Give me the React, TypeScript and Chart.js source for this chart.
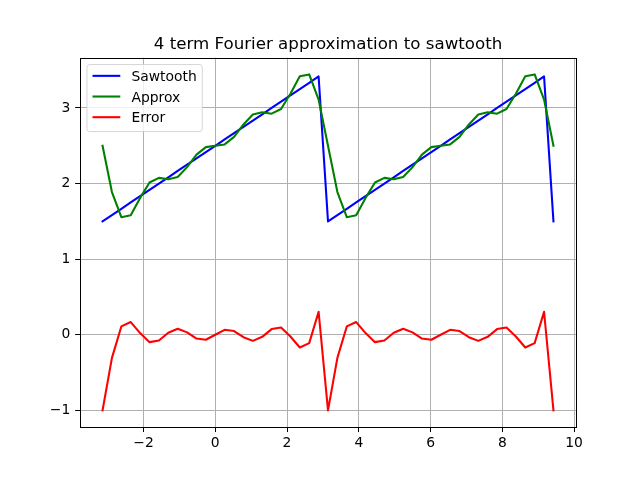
import React, { useEffect, useRef } from 'react';
import { Chart, registerables } from 'chart.js';

Chart.register(...registerables);

const titleText = '4 term Fourier approximation to sawtooth';
const seriesLabels = ['Sawtooth', 'Approx', 'Error'];
const seriesColors = ['#0000ff', '#008000', '#ff0000'];

const xValues = [
  -3.1416, -2.8798, -2.618, -2.3562, -2.0944, -1.8326, -1.5708, -1.309, -1.0472, -0.7854, -0.5236, -0.2618,
  0, 0.2618, 0.5236, 0.7854, 1.0472, 1.309, 1.5708, 1.8326, 2.0944, 2.3562, 2.618, 2.8798,
  3.1416, 3.4034, 3.6652, 3.927, 4.1888, 4.4506, 4.7124, 4.9742, 5.236, 5.4978, 5.7596, 6.0214,
  6.2832, 6.545, 6.8068, 7.0686, 7.3304, 7.5922, 7.854, 8.1158, 8.3776, 8.6394, 8.9012, 9.163,
  9.4248,
];

const sawtooth = [
  1.5, 1.5833, 1.6667, 1.75, 1.8333, 1.9167, 2.0, 2.0833, 2.1667, 2.25, 2.3333, 2.4167,
  2.5, 2.5833, 2.6667, 2.75, 2.8333, 2.9167, 3.0, 3.0833, 3.1667, 3.25, 3.3333, 3.4167,
  1.5, 1.5833, 1.6667, 1.75, 1.8333, 1.9167, 2.0, 2.0833, 2.1667, 2.25, 2.3333, 2.4167,
  2.5, 2.5833, 2.6667, 2.75, 2.8333, 2.9167, 3.0, 3.0833, 3.1667, 3.25, 3.3333, 3.4167,
  1.5,
];

const approx = [
  2.5, 1.8882, 1.556, 1.5815, 1.8108, 2.0138, 2.0756, 2.0564, 2.0865, 2.2181, 2.383, 2.4822,
  2.5, 2.5178, 2.617, 2.7819, 2.9135, 2.9436, 2.9244, 2.9862, 3.1892, 3.4185, 3.444, 3.1118,
  2.5, 1.8882, 1.556, 1.5815, 1.8108, 2.0138, 2.0756, 2.0564, 2.0865, 2.2181, 2.383, 2.4822,
  2.5, 2.5178, 2.617, 2.7819, 2.9135, 2.9436, 2.9244, 2.9862, 3.1892, 3.4185, 3.444, 3.1118,
  2.5,
];

const errorValues = [
  -1.0, -0.3049, 0.1107, 0.1685, 0.0225, -0.0971, -0.0756, 0.0269, 0.0802, 0.0319, -0.0496, -0.0655,
  0, 0.0655, 0.0496, -0.0319, -0.0802, -0.0269, 0.0756, 0.0971, -0.0225, -0.1685, -0.1107, 0.3049,
  -1.0, -0.3049, 0.1107, 0.1685, 0.0225, -0.0971, -0.0756, 0.0269, 0.0802, 0.0319, -0.0496, -0.0655,
  0, 0.0655, 0.0496, -0.0319, -0.0802, -0.0269, 0.0756, 0.0971, -0.0225, -0.1685, -0.1107, 0.3049,
  -1.0,
];

const xTicks = [-2, 0, 2, 4, 6, 8, 10];
const yTicks = [-1, 0, 1, 2, 3];

const FONT = "'DejaVu Sans', sans-serif";
const fmt = (v: number) => (v < 0 ? '\u2212' + Math.abs(v) : String(v));

const framePlugin = {
  id: 'mplFrame',
  afterDatasetsDraw(chart: any) {
    const { ctx, chartArea } = chart;
    ctx.save();
    // spines
    const l = Math.round(chartArea.left) + 0.5;
    const r = Math.round(chartArea.right) + 0.5;
    const t = Math.round(chartArea.top) + 0.5;
    const b = Math.round(chartArea.bottom) + 0.5;
    ctx.strokeStyle = '#000';
    ctx.lineWidth = 1;
    ctx.strokeRect(l, t, r - l, b - t);

    // legend
    const fs = 13.89;
    ctx.font = `${fs}px ${FONT}`;
    const pad = 0.5 * fs;
    const borderpad = 0.4 * fs;
    const handleLen = 2 * fs;
    const handleTextPad = 0.8 * fs;
    const rowH = 20.67;
    const labels = chart.data.datasets.map((d: any) => d.label as string);
    const maxW = Math.max(...labels.map((s: string) => ctx.measureText(s).width));
    const left = chartArea.left + pad;
    const top = chartArea.top + pad;
    const w = borderpad * 2 + handleLen + handleTextPad + maxW;
    const h = 67;
    const rad = 0.2 * fs;
    ctx.beginPath();
    ctx.moveTo(left + rad, top);
    ctx.lineTo(left + w - rad, top);
    ctx.arcTo(left + w, top, left + w, top + rad, rad);
    ctx.lineTo(left + w, top + h - rad);
    ctx.arcTo(left + w, top + h, left + w - rad, top + h, rad);
    ctx.lineTo(left + rad, top + h);
    ctx.arcTo(left, top + h, left, top + h - rad, rad);
    ctx.lineTo(left, top + rad);
    ctx.arcTo(left, top, left + rad, top, rad);
    ctx.closePath();
    ctx.fillStyle = 'rgba(255,255,255,0.8)';
    ctx.fill();
    ctx.strokeStyle = 'rgba(204,204,204,0.8)';
    ctx.lineWidth = 1;
    ctx.stroke();

    chart.data.datasets.forEach((d: any, i: number) => {
      const y = top + 11.3 + i * rowH;
      const x0 = left + borderpad;
      ctx.beginPath();
      ctx.moveTo(x0, y);
      ctx.lineTo(x0 + handleLen, y);
      ctx.strokeStyle = d.borderColor;
      ctx.lineWidth = 2.08;
      ctx.lineCap = 'butt';
      ctx.stroke();
      ctx.fillStyle = '#000';
      ctx.textAlign = 'left';
      ctx.textBaseline = 'alphabetic';
      ctx.fillText(d.label, x0 + handleLen + handleTextPad, y + 5.07);
    });
    ctx.restore();
  },
};

export default function App() {
  const ref = useRef<HTMLCanvasElement | null>(null);

  useEffect(() => {
    if (!ref.current) return;
    Chart.defaults.font.family = FONT;
    Chart.defaults.color = '#000';
    const series = [sawtooth, approx, errorValues];
    const chart = new Chart(ref.current, {
      type: 'line',
      data: {
        datasets: series.map((vals, i) => ({
          label: seriesLabels[i],
          data: xValues.map((x, k) => ({ x, y: vals[k] })),
          borderColor: seriesColors[i],
          backgroundColor: seriesColors[i],
          borderWidth: 2.08,
          pointRadius: 0,
          pointHoverRadius: 0,
          tension: 0,
          fill: false,
          borderJoinStyle: 'round' as const,
          borderCapStyle: 'square' as const,
          order: 3 - i,
        })),
      },
      options: {
        animation: false,
        responsive: false,
        maintainAspectRatio: false,
        layout: { padding: { left: 0, right: 64, top: 0, bottom: 0 } },
        plugins: {
          legend: { display: false },
          tooltip: { enabled: false },
          title: {
            display: true,
            text: titleText,
            fullSize: false,
            color: '#000',
            font: { family: FONT, size: 16.67, weight: 'normal', lineHeight: 1.2 },
            padding: { top: 34.35, bottom: 3.25 },
          },
        },
        scales: {
          x: {
            type: 'linear',
            min: -3.7699,
            max: 10.0531,
            afterBuildTicks: (scale: any) => {
              scale.ticks = xTicks.map((v) => ({ value: v }));
            },
            afterFit: (scale: any) => {
              scale.height = 52.8;
            },
            ticks: {
              font: { family: FONT, size: 13.89 },
              color: '#000',
              padding: 3,
              maxRotation: 0,
              autoSkip: false,
              callback: (v: any) => fmt(Number(v)),
            },
            grid: {
              color: '#b0b0b0',
              lineWidth: 1,
              tickColor: '#000',
              tickLength: 4.86,
              tickWidth: 1,
            },
            border: { display: false },
          },
          y: {
            type: 'linear',
            min: -1.2222,
            max: 3.6662,
            afterBuildTicks: (scale: any) => {
              scale.ticks = yTicks.map((v) => ({ value: v }));
            },
            afterFit: (scale: any) => {
              scale.width = 80;
            },
            ticks: {
              font: { family: FONT, size: 13.89 },
              color: '#000',
              padding: 4.86,
              autoSkip: false,
              callback: (v: any) => fmt(Number(v)),
            },
            grid: {
              color: '#b0b0b0',
              lineWidth: 1,
              tickColor: '#000',
              tickLength: 4.86,
              tickWidth: 1,
            },
            border: { display: false },
          },
        },
      },
      plugins: [framePlugin],
    } as any);
    return () => chart.destroy();
  }, []);

  return (
    <div style={{ position: 'fixed', left: 0, top: 0, width: 640, height: 480, background: '#fff' }}>
      <canvas ref={ref} width={640} height={480} style={{ display: 'block', width: 640, height: 480 }} />
    </div>
  );
}
